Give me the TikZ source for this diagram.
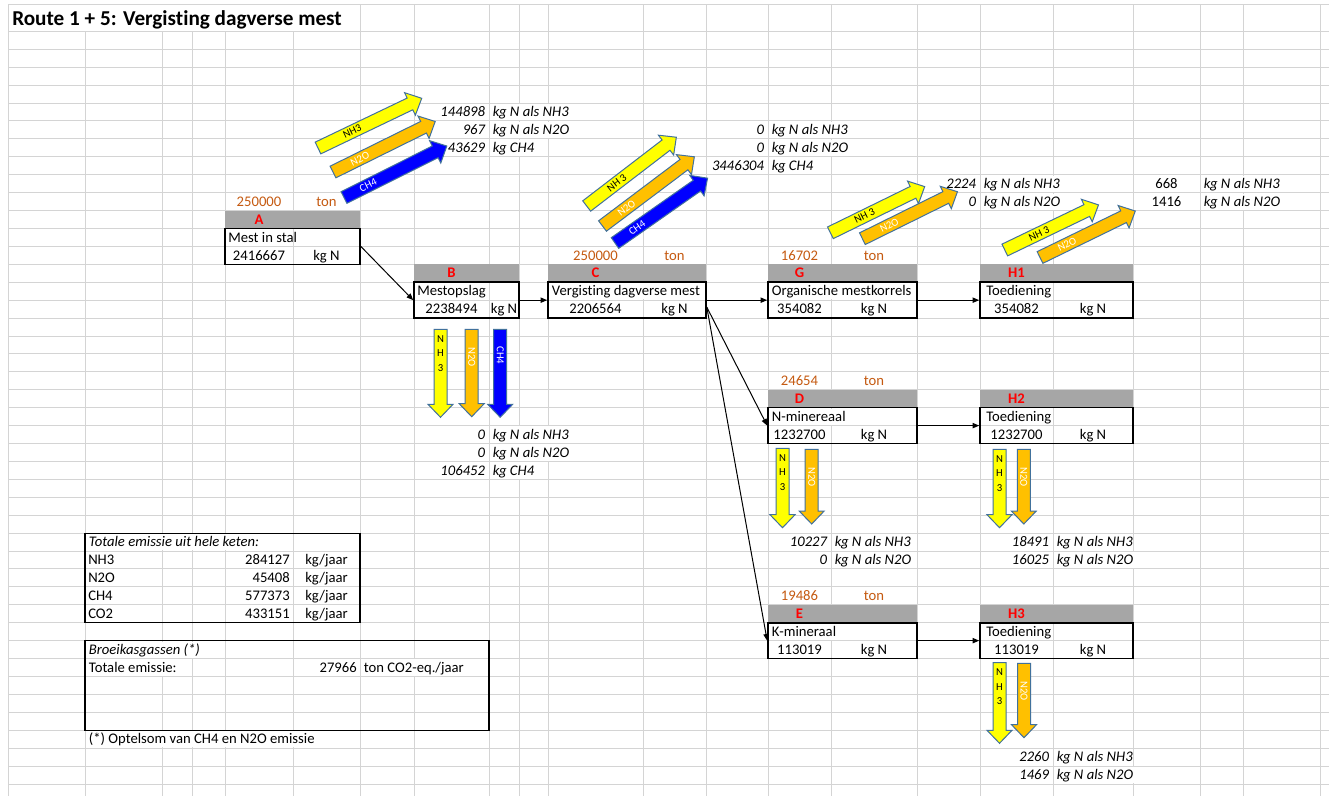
\documentclass[tikz,border=0pt]{standalone}
\usepackage{fontspec}
\setmainfont{Carlito}[Ligatures={NoCommon}]
\usetikzlibrary{arrows.meta,fit}
\definecolor{gridc}{HTML}{D4D4D4}
\definecolor{hdrgray}{HTML}{A6A6A6}
\definecolor{orngc}{HTML}{C55A11}
\definecolor{xred}{HTML}{FF0000}
\definecolor{ayel}{HTML}{FFFF00}
\definecolor{aorg}{HTML}{FFC000}
\definecolor{ablu}{HTML}{0000FF}
\definecolor{aout}{HTML}{41719C}
\tikzset{
 gridln/.style={draw=gridc, line width=0.75pt},
 tx/.style={inner sep=0pt, font=\fontsize{11}{13}\selectfont},
 ovf/.style={fill=white, inner xsep=0.5pt, inner ysep=0pt, text height=9.6pt, text depth=2.6pt},
 it/.style={font=\fontsize{11}{13}\selectfont\itshape},
 orng/.style={text=orngc},
 hdrl/.style={text=xred, font=\fontsize{11}{13}\selectfont\bfseries},
 boxfr/.style={draw=black, line width=1.2pt, inner sep=0pt},
 tblfr/.style={draw=black, line width=0.8pt, inner sep=0pt},
 blk/.style={draw=aout, line width=0.75pt, line join=miter},
 albl/.style={inner sep=0pt, font=\fontsize{8}{10.9}\selectfont},
 conn/.style={draw=black, line width=0.75pt, -{Triangle[length=5pt,width=4pt]}},
}
\newcommand\txL[5][]{\node[tx,#1,anchor=base west] (#2) at (#3,116.7+17.92*#4) {#5};}
\newcommand\txR[5][]{\node[tx,#1,anchor=base east] (#2) at (#3,116.7+17.92*#4) {#5};}
\newcommand\txC[5][]{\node[tx,#1,anchor=base] (#2) at (#3,116.7+17.92*#4) {#5};}
\newcommand\blkshape[5]{%
 \path[blk, fill=#5, shift={(#1,#2)}, rotate=#3] (0,-6.5) -- ({#4-13},-6.5) -- ({#4-13},-12.5) -- (#4,0) -- ({#4-13},12.5) -- ({#4-13},6.5) -- (0,6.5) -- cycle;}
\newcommand\blkarrow[9]{%
 \blkshape{#2}{#3}{#4}{#5}{#6}%
 \begin{scope}[shift={(#2,#3)}, rotate=#4]
  \node[albl, transform shape, text=#9] (#1) at (#8,0) {#7};
 \end{scope}}
\begin{document}
\begin{tikzpicture}[x=0.75pt,y=-0.75pt]
\useasboundingbox (0,0) rectangle (1329,796);
\fill[white] (0,0) rectangle (1329,796);
% grid
\draw[gridln] (8,4) -- (1329,4);
\foreach \k in {-4,...,38}{\draw[gridln] (8,{103.04+17.92*\k}) -- (1329,{103.04+17.92*\k});}
\foreach \c in {8,85,162,192,225,293,360,414,489,519,548,643,706,768,831,917,980,1053,1133,1200,1243,1320}{\draw[gridln] (\c,4) -- (\c,796);}
% title
\fill[white] (8.6,4.6) rectangle (359.4,30.8);
\node[inner sep=0pt, anchor=base west, font=\fontsize{15.9}{19}\selectfont\bfseries] (title) at (12,26) {Route 1 + 5: Vergisting dagverse mest};
% gray headers
\fill[hdrgray] (225,210.56) rectangle (360,228.48);
\fill[hdrgray] (414,264.32) rectangle (519,282.24);
\fill[hdrgray] (548,264.32) rectangle (706,282.24);
\fill[hdrgray] (768,264.32) rectangle (917,282.24);
\fill[hdrgray] (980,264.32) rectangle (1133,282.24);
\fill[hdrgray] (768,389.76) rectangle (917,407.68);
\fill[hdrgray] (980,389.76) rectangle (1133,407.68);
\fill[hdrgray] (768,604.8) rectangle (917,622.72);
\fill[hdrgray] (980,604.8) rectangle (1133,622.72);
% emission texts A
\txR[ovf,it]{a1v}{486}{0}{144898}
\txL[ovf,it]{a1u}{492}{0}{kg N als NH3}
\txR[ovf,it]{a2v}{486}{1}{967}
\txL[ovf,it]{a2u}{492}{1}{kg N als N2O}
\txR[ovf,it]{a3v}{486}{2}{43629}
\txL[ovf,it]{a3u}{492}{2}{kg CH4}
% C
\txR[ovf,it]{c1v}{765}{1}{0}
\txL[ovf,it]{c1u}{771}{1}{kg N als NH3}
\txR[ovf,it]{c2v}{765}{2}{0}
\txL[ovf,it]{c2u}{771}{2}{kg N als N2O}
\txR[ovf,it]{c3v}{765}{3}{3446304}
\txL[ovf,it]{c3u}{771}{3}{kg CH4}
% G
\txR[ovf,it]{g1v}{977}{4}{2224}
\txL[ovf,it]{g1u}{983}{4}{kg N als NH3}
\txR[ovf,it]{g2v}{977}{5}{0}
\txL[ovf,it]{g2u}{983}{5}{kg N als N2O}
% H1
\txC{k1v}{1166.5}{4}{668}
\txL[ovf,it]{k1u}{1203}{4}{kg N als NH3}
\txC{k2v}{1166.5}{5}{1416}
\txL[ovf,it]{k2u}{1203}{5}{kg N als N2O}
% orange amounts
\txC[orng]{oa1}{259}{5}{250000}
\txC[orng]{oa2}{326.5}{5}{ton}
\txC[orng]{oc1}{595.5}{8}{250000}
\txC[orng]{oc2}{674.5}{8}{ton}
\txC[orng]{og1}{799.5}{8}{16702}
\txC[orng]{og2}{874}{8}{ton}
\txC[orng]{od1}{799.5}{15}{24654}
\txC[orng]{od2}{874}{15}{ton}
\txC[orng]{oe1}{799.5}{27}{19486}
\txC[orng]{oe2}{874}{27}{ton}
% header letters
\txC[hdrl]{hA}{259}{6}{A}
\txC[hdrl]{hB}{451.5}{9}{B}
\txC[hdrl]{hC}{595.5}{9}{C}
\txC[hdrl]{hG}{799.5}{9}{G}
\txC[hdrl]{hH1}{1016.5}{9}{H1}
\txC[hdrl]{hD}{799.5}{16}{D}
\txC[hdrl]{hH2}{1016.5}{16}{H2}
\txC[hdrl]{hE}{799.5}{28}{E}
\txC[hdrl]{hH3}{1016.5}{28}{H3}
% box contents
\txL{nA}{228}{7}{Mest in stal}
\txC{vA}{259}{8}{2416667}
\txC{uA}{326.5}{8}{kg N}
\txL{nB}{417}{10}{Mestopslag}
\txC{vB}{451.5}{11}{2238494}
\txC{uB}{504}{11}{kg N}
\txL[ovf]{nC}{551}{10}{Vergisting dagverse mest}
\txC{vC}{595.5}{11}{2206564}
\txC{uC}{674.5}{11}{kg N}
\txL[ovf]{nG}{771}{10}{Organische mestkorrels}
\txC{vG}{799.5}{11}{354082}
\txC{uG}{874}{11}{kg N}
\txL{nH1}{986}{10}{Toediening}
\txC{vH1}{1016.5}{11}{354082}
\txC{uH1}{1093}{11}{kg N}
\txL[ovf]{nD}{771}{17}{N-minereaal}
\txC{vD}{799.5}{18}{1232700}
\txC{uD}{874}{18}{kg N}
\txL{nH2}{986}{17}{Toediening}
\txC{vH2}{1016.5}{18}{1232700}
\txC{uH2}{1093}{18}{kg N}
\txL[ovf]{nE}{771}{29}{K-mineraal}
\txC{vE}{799.5}{30}{113019}
\txC{uE}{874}{30}{kg N}
\txL{nH3}{986}{29}{Toediening}
\txC{vH3}{1016.5}{30}{113019}
\txC{uH3}{1093}{30}{kg N}
% B bottom
\txR[ovf,it]{b1v}{486}{18}{0}
\txL[ovf,it]{b1u}{492}{18}{kg N als NH3}
\txR[ovf,it]{b2v}{486}{19}{0}
\txL[ovf,it]{b2u}{492}{19}{kg N als N2O}
\txR[ovf,it]{b3v}{486}{20}{106452}
\txL[ovf,it]{b3u}{492}{20}{kg CH4}
% D bottom
\txR[ovf,it]{d1v}{828}{24}{10227}
\txL[ovf,it]{d1u}{834}{24}{kg N als NH3}
\txR[ovf,it]{d2v}{828}{25}{0}
\txL[ovf,it]{d2u}{834}{25}{kg N als N2O}
% H2 bottom
\txR[ovf,it]{e1v}{1050}{24}{18491}
\txL[ovf,it]{e1u}{1056}{24}{kg N als NH3}
\txR[ovf,it]{e2v}{1050}{25}{16025}
\txL[ovf,it]{e2u}{1056}{25}{kg N als N2O}
% H3 bottom
\txR[ovf,it]{f1v}{1050}{36}{2260}
\txL[ovf,it]{f1u}{1056}{36}{kg N als NH3}
\txR[ovf,it]{f2v}{1050}{37}{1469}
\txL[ovf,it]{f2u}{1056}{37}{kg N als N2O}
% totals table
\txL[ovf,it]{t0}{88}{24}{Totale emissie uit hele keten:}
\txL{t1n}{88}{25}{NH3}
\txR{t1v}{290}{25}{284127}
\txC{t1u}{326.5}{25}{kg/jaar}
\txL{t2n}{88}{26}{N2O}
\txR{t2v}{290}{26}{45408}
\txC{t2u}{326.5}{26}{kg/jaar}
\txL{t3n}{88}{27}{CH4}
\txR{t3v}{290}{27}{577373}
\txC{t3u}{326.5}{27}{kg/jaar}
\txL{t4n}{88}{28}{CO2}
\txR{t4v}{290}{28}{433151}
\txC{t4u}{326.5}{28}{kg/jaar}
\txL[ovf,it]{s0}{88}{30}{Broeikasgassen (*)}
\txL[ovf]{s1}{88}{31}{Totale emissie:}
\txR{s1v}{357}{31}{27966}
\txL[ovf]{s1u}{363}{31}{ton CO2-eq./jaar}
\txL[ovf]{note}{88}{35}{(*) Optelsom van CH4 en N2O emissie}
% frames
\node[tblfr, fit={(85,533.12) (360,622.72)}] (T1) {};
\node[tblfr, fit={(85,640.64) (489,730.24)}] (T2) {};
\node[boxfr, fit={(225,228.48) (360,264.32)}] (A) {};
\node[boxfr, fit={(414,282.24) (519,318.08)}] (B) {};
\node[boxfr, fit={(548,282.24) (706,318.08)}] (C) {};
\node[boxfr, fit={(768,282.24) (917,318.08)}] (G) {};
\node[boxfr, fit={(980,282.24) (1133,318.08)}] (H1) {};
\node[boxfr, fit={(768,407.68) (917,443.52)}] (D) {};
\node[boxfr, fit={(980,407.68) (1133,443.52)}] (H2) {};
\node[boxfr, fit={(768,622.72) (917,658.56)}] (E) {};
\node[boxfr, fit={(980,622.72) (1133,658.56)}] (H3) {};
% diagonal block arrows
\blkarrow{lA1}{318}{148}{25.6}{115}{ayel}{NH3}{38}{black}
\blkarrow{lA2}{333}{172}{26.3}{114}{aorg}{N2O}{30}{white}
\blkarrow{lA3}{344}{197.5}{26.6}{115}{ablu}{CH4}{27}{white}
\blkarrow{lC1}{586.7}{206}{37.5}{113}{ayel}{NH 3}{38}{black}
\blkarrow{lC2}{602.5}{226}{37}{115}{aorg}{N2O}{30}{white}
\blkarrow{lC3}{615}{243}{35}{113}{ablu}{CH4}{27}{white}
\blkarrow{lG1}{830.4}{232.8}{26.1}{105}{ayel}{NH 3}{38}{black}
\blkarrow{lG2}{862.4}{238.7}{26.3}{106}{aorg}{N2O}{30}{white}
\blkarrow{lK1}{1004.8}{250}{25.7}{104}{ayel}{NH 3}{38}{black}
\blkarrow{lK2}{1040}{257.5}{26}{106}{aorg}{N2O}{30}{white}
% down block arrows
\blkshape{440.5}{329.3}{-90}{88}{ayel}
\node[albl, align=center] (lB1) at (440.5,353.3) {N\\H\\3};
\blkarrow{lB2}{471.7}{329.3}{-90}{87.4}{aorg}{N2O}{28}{white}
\blkarrow{lB3}{500.2}{329.3}{-90}{88}{ablu}{CH4}{26}{white}
\blkshape{782.5}{448.3}{-90}{79.4}{ayel}
\node[albl, align=center] (lD1) at (782.5,472.3) {N\\H\\3};
\blkarrow{lD2}{811.7}{449.3}{-90}{74.7}{aorg}{N2O}{28}{white}
\blkshape{999.5}{449.3}{-90}{78.4}{ayel}
\node[albl, align=center] (lM1) at (999.5,473.3) {N\\H\\3};
\blkarrow{lM2}{1023.8}{449.3}{-90}{74.7}{aorg}{N2O}{28}{white}
\blkshape{999.5}{662.7}{-90}{80.6}{ayel}
\node[albl, align=center] (lP1) at (999.5,686.7) {N\\H\\3};
\blkarrow{lP2}{1024}{663.3}{-90}{74.4}{aorg}{N2O}{28}{white}
% connectors
\draw[conn] (A.east) -- (B.west);
\draw[conn] (B.east) -- (C.west);
\draw[conn] (C.east) -- (G.west);
\draw[conn] (C.355) -- (D.west);
\draw[conn] (C.355) -- (E.west);
\draw[conn] (G.east) -- (H1.west);
\draw[conn] (D.east) -- (H2.west);
\draw[conn] (E.east) -- (H3.west);
\end{tikzpicture}
\end{document}
